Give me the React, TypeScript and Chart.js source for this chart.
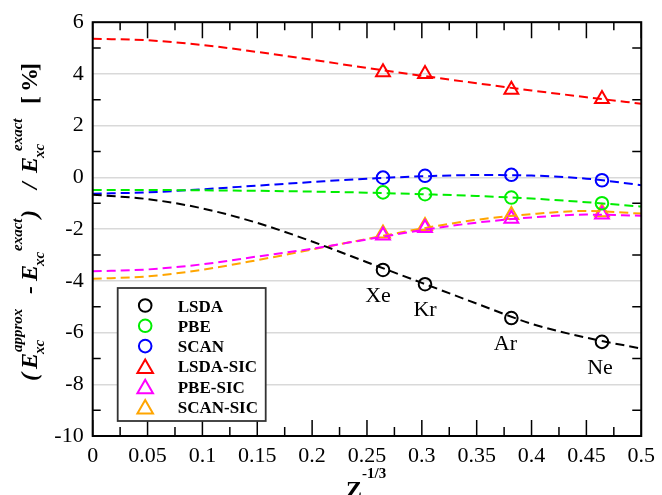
import React, { useEffect, useRef } from 'react';
import { Chart, registerables } from 'chart.js';

Chart.register(...registerables);

// ---------- data ----------
const fitX = [0, 0.05, 0.1, 0.15, 0.2, 0.25, 0.3, 0.35, 0.4, 0.45, 0.5];
const atoms = ['Xe', 'Kr', 'Ar', 'Ne'];
const atomX = [0.2646, 0.3029, 0.3816, 0.4642];

const lsdaPts = [-3.58, -4.13, -5.44, -6.36];
const pbePts = [-0.58, -0.65, -0.78, -1.0];
const scanPts = [-0.01, 0.06, 0.1, -0.11];
const lsdaSicPts = [4.06, 4.0, 3.39, 3.03];
const pbeSicPts = [-2.25, -1.96, -1.6, -1.44];
const scanSicPts = [-2.17, -1.88, -1.45, -1.35];

const lsdaFit = [-0.67, -0.84, -1.2, -1.76, -2.48, -3.28, -4.08, -4.88, -5.66, -6.2, -6.62];
const pbeFit = [-0.49, -0.49, -0.5, -0.52, -0.55, -0.59, -0.65, -0.72, -0.82, -0.96, -1.13];
const scanFit = [-0.63, -0.58, -0.46, -0.32, -0.18, -0.05, 0.04, 0.09, 0.07, -0.05, -0.3];
const lsdaSicFit = [5.36, 5.3, 5.12, 4.85, 4.55, 4.23, 3.93, 3.64, 3.36, 3.1, 2.85];
const pbeSicFit = [-3.63, -3.56, -3.36, -3.06, -2.76, -2.4, -2.04, -1.75, -1.55, -1.44, -1.48];
const scanSicFit = [-3.92, -3.83, -3.57, -3.2, -2.79, -2.38, -1.98, -1.64, -1.42, -1.3, -1.4];

const seriesNames = ['LSDA', 'PBE', 'SCAN', 'LSDA-SIC', 'PBE-SIC', 'SCAN-SIC'];
const seriesPoints = [lsdaPts, pbePts, scanPts, lsdaSicPts, pbeSicPts, scanSicPts];
const seriesFits = [lsdaFit, pbeFit, scanFit, lsdaSicFit, pbeSicFit, scanSicFit];
const seriesColors = ['#000000', '#00ee00', '#0000ff', '#ff0000', '#ff00ff', '#ffa500'];
const seriesMarkers = ['circle', 'circle', 'circle', 'triangle', 'triangle', 'triangle'];

const xTickValues = [0, 0.05, 0.1, 0.15, 0.2, 0.25, 0.3, 0.35, 0.4, 0.45, 0.5];
const xMinorTicks = [0.025, 0.075, 0.125, 0.175, 0.225, 0.275, 0.325, 0.375, 0.425, 0.475];
const yTickValues = [-10, -8, -6, -4, -2, 0, 2, 4, 6];
const yMinorTicks = [-9, -7, -5, -3, -1, 1, 3, 5];

// ---------- layout ----------
const FONT = '"Liberation Serif", "Times New Roman", serif';
const labelOffsets = [
  { dx: -5, dy: 32 },
  { dx: 0, dy: 32 },
  { dx: -6, dy: 32 },
  { dx: -2, dy: 32 },
];
const MAIN = { size: 24, base: 37, style: 'italic bold' };
const SUB = { size: 15, base: 44, style: 'italic bold' };
const SUP = { size: 15, base: 22, style: 'italic bold' };
const yTitleRuns = [
  { t: '(', at: 381, ...MAIN },
  { t: 'E', at: 369, ...MAIN },
  { t: 'xc', at: 354, ...SUB },
  { t: 'approx', at: 352, ...SUP },
  { t: '-', at: 294, ...MAIN },
  { t: 'E', at: 281, ...MAIN },
  { t: 'xc', at: 266, ...SUB },
  { t: 'exact', at: 251, ...SUP },
  { t: ')', at: 218, ...MAIN },
  { t: '/', at: 189, ...MAIN },
  { t: 'E', at: 173, ...MAIN },
  { t: 'xc', at: 158, ...SUB },
  { t: 'exact', at: 151, ...SUP },
  { t: '[', at: 104, ...MAIN, style: 'bold' },
  { t: '%', at: 92, ...MAIN, style: 'bold' },
  { t: ']', at: 71, ...MAIN, style: 'bold' },
];

function drawMarker(ctx: CanvasRenderingContext2D, kind: string, x: number, y: number, r: number) {
  ctx.beginPath();
  if (kind === 'circle') {
    ctx.arc(x, y, r, 0, Math.PI * 2);
  } else {
    ctx.moveTo(x, y - r);
    ctx.lineTo(x + 0.866 * r, y + 0.5 * r);
    ctx.lineTo(x - 0.866 * r, y + 0.5 * r);
    ctx.closePath();
  }
  ctx.stroke();
}

const decorPlugin = {
  id: 'decor',
  afterDraw(chart: any) {
    const ctx: CanvasRenderingContext2D = chart.ctx;
    const { left, right, top, bottom } = chart.chartArea;
    const xs = chart.scales.x;
    const ys = chart.scales.y;
    ctx.save();
    // ticks
    ctx.strokeStyle = '#000';
    ctx.lineWidth = 1.5;
    ctx.beginPath();
    xTickValues.forEach((v) => {
      const px = xs.getPixelForValue(v);
      ctx.moveTo(px, bottom); ctx.lineTo(px, bottom - 16);
      ctx.moveTo(px, top); ctx.lineTo(px, top + 16);
    });
    xMinorTicks.forEach((v) => {
      const px = xs.getPixelForValue(v);
      ctx.moveTo(px, bottom); ctx.lineTo(px, bottom - 9);
      ctx.moveTo(px, top); ctx.lineTo(px, top + 8);
    });
    yMinorTicks.forEach((v) => {
      const py = ys.getPixelForValue(v);
      ctx.moveTo(left, py); ctx.lineTo(left + 8, py);
      ctx.moveTo(right, py); ctx.lineTo(right - 9, py);
    });
    ctx.stroke();
    // frame
    ctx.lineWidth = 2;
    ctx.strokeRect(left, top, right - left, bottom - top);

    // atom labels
    ctx.fillStyle = '#000';
    ctx.font = `22px ${FONT}`;
    ctx.textAlign = 'center';
    ctx.textBaseline = 'alphabetic';
    atoms.forEach((a, i) => {
      const px = xs.getPixelForValue(atomX[i]) + labelOffsets[i].dx;
      const py = ys.getPixelForValue(lsdaPts[i]) + labelOffsets[i].dy;
      ctx.fillText(a, px, py);
    });

    // legend
    const bx = left + 25, by = bottom - 148, bw = 148, bh = 133;
    ctx.fillStyle = '#fff';
    ctx.fillRect(bx, by, bw, bh);
    ctx.strokeStyle = '#333';
    ctx.lineWidth = 1.8;
    ctx.strokeRect(bx, by, bw, bh);
    ctx.font = `bold 17px ${FONT}`;
    ctx.textAlign = 'left';
    ctx.textBaseline = 'alphabetic';
    seriesNames.forEach((n, i) => {
      const ry = by + 17.5 + i * 20.3;
      ctx.strokeStyle = seriesColors[i];
      ctx.lineWidth = 2;
      if (seriesMarkers[i] === 'circle') drawMarker(ctx, 'circle', bx + 27.5, ry, 6.3);
      else drawMarker(ctx, 'triangle', bx + 27.5, ry + 2, 9);
      ctx.fillStyle = '#000';
      ctx.fillText(n, bx + 60, ry + 6);
    });

    // y title
    ctx.save();
    ctx.fillStyle = '#000';
    ctx.textAlign = 'left';
    ctx.textBaseline = 'alphabetic';
    ctx.rotate(-Math.PI / 2);
    yTitleRuns.forEach((r) => {
      ctx.font = `${r.style} ${r.size}px ${FONT}`;
      ctx.fillText(r.t, -r.at, r.base);
    });
    ctx.restore();

    // x title
    ctx.fillStyle = '#000';
    ctx.textAlign = 'left';
    ctx.font = `bold 24px ${FONT}`;
    ctx.fillText('Z', 346, 497);
    ctx.font = `bold 15px ${FONT}`;
    ctx.fillText('-1/3', 362, 478);
    ctx.restore();
  },
};

export default function App() {
  const ref = useRef<HTMLCanvasElement>(null);
  useEffect(() => {
    if (!ref.current) return;
    const datasets: any[] = [];
    seriesNames.forEach((name, i) => {
      datasets.push({
        type: 'line',
        label: name + ' fit',
        data: fitX.map((x, k) => ({ x, y: seriesFits[i][k] })),
        borderColor: seriesColors[i],
        borderWidth: 2,
        borderDash: [9, 5],
        pointRadius: 0,
        fill: false,
        cubicInterpolationMode: 'monotone',
        showLine: true,
      });
    });
    seriesNames.forEach((name, i) => {
      datasets.push({
        type: 'scatter',
        label: name,
        data: atomX.map((x, k) => ({ x, y: seriesPoints[i][k] })),
        borderColor: seriesColors[i],
        backgroundColor: 'rgba(0,0,0,0)',
        pointStyle: seriesMarkers[i],
        pointRadius: seriesMarkers[i] === 'circle' ? 6.3 : 8,
        pointBorderWidth: 2,
        showLine: false,
      });
    });
    const chart = new Chart(ref.current, {
      type: 'scatter',
      data: { datasets },
      options: {
        animation: false,
        responsive: false,
        layout: { padding: { top: 17, right: 17, left: 0, bottom: 0 } },
        plugins: { legend: { display: false }, tooltip: { enabled: false } },
        scales: {
          x: {
            type: 'linear',
            min: 0,
            max: 0.5,
            afterBuildTicks: (s: any) => { s.ticks = xTickValues.map((v) => ({ value: v })); },
            afterFit: (s: any) => { s.height = 59; },
            grid: { display: false, drawTicks: false },
            border: { display: false },
            ticks: {
              autoSkip: false,
              maxRotation: 0,
              padding: 7,
              color: '#000',
              font: { family: FONT, size: 22 },
              callback: (v: any) => String(+Number(v).toFixed(3)),
            },
          },
          y: {
            type: 'linear',
            min: -10,
            max: 6,
            afterBuildTicks: (s: any) => { s.ticks = yTickValues.map((v) => ({ value: v })); },
            afterFit: (s: any) => { s.width = 92.7; },
            grid: { color: '#d9d9d9', lineWidth: 1.5, drawTicks: false },
            border: { display: false },
            ticks: {
              padding: 9,
              color: '#000',
              font: { family: FONT, size: 22 },
              callback: (v: any) => String(v),
            },
          },
        },
      },
      plugins: [decorPlugin],
    } as any);
    return () => chart.destroy();
  }, []);
  return (
    <div style={{ position: 'absolute', left: 0, top: 0, width: 662, height: 495, background: '#fff' }}>
      <canvas ref={ref} width={662} height={495} style={{ width: 662, height: 495 }} />
    </div>
  );
}
